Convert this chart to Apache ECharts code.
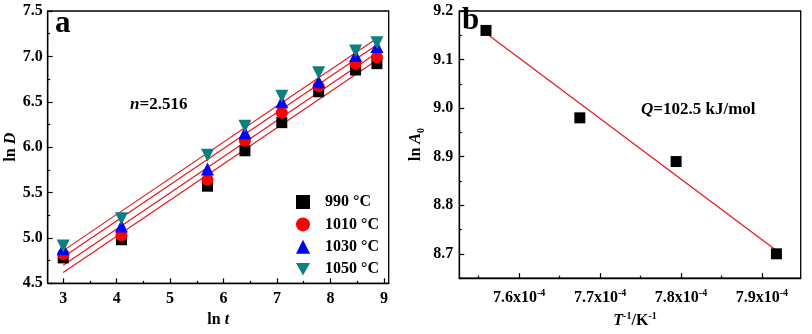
<!DOCTYPE html>
<html>
<head>
<meta charset="utf-8">
<script src="https://cdn.jsdelivr.net/npm/echarts@6/dist/echarts.min.js"></script>
<style>
html,body{margin:0;padding:0;background:#fff;}
#c{width:812px;height:334px;}
</style>
</head>
<body>
<div id="c"></div>
<script>
// ---------- Data (panel a) ----------
var lnT = [3.00, 4.09, 5.70, 6.40, 7.09, 7.78, 8.47, 8.87];
var lnD_990  = [4.78, 4.98, 5.57, 5.96, 6.27, 6.61, 6.85, 6.92];
var lnD_1010 = [4.82, 5.03, 5.64, 6.07, 6.38, 6.67, 6.92, 6.99];
var lnD_1030 = [4.88, 5.13, 5.76, 6.16, 6.50, 6.72, 7.01, 7.11];
var lnD_1050 = [4.91, 5.21, 5.91, 6.23, 6.56, 6.82, 7.06, 7.15];
var seriesNames = ['990 \u00B0C', '1010 \u00B0C', '1030 \u00B0C', '1050 \u00B0C'];
// fitted lines (endpoints)
var fitX = [3.0, 8.9];
var fit_990  = [4.62, 6.97];
var fit_1010 = [4.70, 7.05];
var fit_1030 = [4.79, 7.14];
var fit_1050 = [4.86, 7.21];
// ticks (panel a)
var aXMajor = [3, 4, 5, 6, 7, 8, 9];
var aXMinor = [3.5, 4.5, 5.5, 6.5, 7.5, 8.5];
var aYMajor = [4.5, 5.0, 5.5, 6.0, 6.5, 7.0, 7.5];
var aYMinor = [4.75, 5.25, 5.75, 6.25, 6.75, 7.25];

// ---------- Data (panel b) ----------  (x in units of 1e-4 K^-1)
var invT = [7.559, 7.675, 7.794, 7.918];
var lnA0 = [9.16, 8.98, 8.89, 8.70];
var fitInvT = [7.559, 7.918];
var fitLnA0 = [9.154, 8.707];
var bXMajor = [7.6, 7.7, 7.8, 7.9];
var bXMinor = [7.55, 7.65, 7.75, 7.85, 7.95];
var bYMajor = [8.7, 8.8, 8.9, 9.0, 9.1, 9.2];
var bYMinor = [8.65, 8.75, 8.85, 8.95, 9.05, 9.15];

var FF = 'Liberation Serif';

function zip(xs, ys) { return xs.map(function (x, i) { return [x, ys[i]]; }); }

var richBase = {
  b: {fontFamily: FF, fontWeight: 'bold', fontSize: 16, color: '#000', lineHeight: 20},
  i: {fontFamily: FF, fontWeight: 'bold', fontStyle: 'italic', fontSize: 16, color: '#000', lineHeight: 20},
  sup: {fontFamily: FF, fontWeight: 'bold', fontSize: 10, color: '#000', verticalAlign: 'top', lineHeight: 20, padding: [0, 0, 7, 0]},
  sub: {fontFamily: FF, fontWeight: 'bold', fontSize: 10, color: '#000', verticalAlign: 'bottom', lineHeight: 20, padding: [5, 0, 0, 0]}
};
var richAnn = {
  b: {fontFamily: FF, fontWeight: 'bold', fontSize: 17, color: '#000', lineHeight: 20},
  i: {fontFamily: FF, fontWeight: 'bold', fontStyle: 'italic', fontSize: 17, color: '#000', lineHeight: 20}
};

function majorAxis(type, grid, min, max, ticks, labelFmt, extra, margin) {
  var a = {
    type: 'value', gridIndex: grid, min: min, max: max,
    position: type === 'x' ? 'bottom' : 'left',
    axisLine: {show: true, onZero: false, lineStyle: {color: '#000', width: 1.3}},
    axisTick: {show: true, inside: true, length: 5, customValues: ticks, lineStyle: {color: '#000', width: 1.2}},
    axisLabel: {show: true, customValues: ticks, fontFamily: FF, fontWeight: 'bold', fontSize: 16, color: '#000',
                margin: margin, formatter: labelFmt, rich: richBase, hideOverlap: false},
    splitLine: {show: false}
  };
  for (var k in extra) a[k] = extra[k];
  return a;
}
function minorAxis(type, grid, min, max, ticks) {
  return {
    type: 'value', gridIndex: grid, min: min, max: max,
    position: type === 'x' ? 'bottom' : 'left',
    axisLine: {show: false, onZero: false},
    axisTick: {show: true, inside: true, length: 2.5, customValues: ticks, lineStyle: {color: '#000', width: 1.2}},
    axisLabel: {show: false},
    splitLine: {show: false}
  };
}

var chart = echarts.init(document.getElementById('c'), null, {renderer: 'canvas'});

var colors = ['#000000', '#ff0000', '#0000ff', '#0e7f7f'];
var symbols = ['rect', 'circle', 'triangle', 'triangle'];
var legendIcons = ['rect', 'circle', 'triangle', 'path://M0,0 L10,0 L5,9 Z'];
var rots = [0, 0, 0, 180];
var sizes = [11, 12, 13, 13];
var dataSets = [lnD_990, lnD_1010, lnD_1030, lnD_1050];
var fits = [fit_990, fit_1010, fit_1030, fit_1050];

var series = [];
fits.forEach(function (f, i) {
  series.push({
    type: 'line', name: 'fit' + i, xAxisIndex: 0, yAxisIndex: 0,
    data: zip(fitX, f), symbol: 'none', silent: true,
    lineStyle: {color: '#e3181f', width: 1.2}, z: 2
  });
});
dataSets.forEach(function (d, i) {
  series.push({
    type: 'scatter', name: seriesNames[i], xAxisIndex: 0, yAxisIndex: 0,
    data: zip(lnT, d), symbol: symbols[i], symbolRotate: rots[i], symbolSize: sizes[i],
    itemStyle: {color: colors[i], opacity: 1}, z: 3
  });
});
series.push({
  type: 'line', name: 'fitB', xAxisIndex: 2, yAxisIndex: 2,
  data: zip(fitInvT, fitLnA0), symbol: 'none', silent: true,
  lineStyle: {color: '#e3181f', width: 1.2}, z: 2
});
series.push({
  type: 'scatter', name: 'lnA0', xAxisIndex: 2, yAxisIndex: 2,
  data: zip(invT, lnA0), symbol: 'rect', symbolSize: 11,
  itemStyle: {color: '#000', opacity: 1}, z: 3
});

var option = {
  animation: false,
  backgroundColor: '#fff',
  grid: [
    {left: 47.7, top: 11, width: 341, height: 272.3, show: true, borderColor: '#000', borderWidth: 1.3, containLabel: false},
    {left: 459.3, top: 11, width: 341.4, height: 272.3, show: true, borderColor: '#000', borderWidth: 1.3, containLabel: false}
  ],
  xAxis: [
    majorAxis('x', 0, 2.71, 9.09, aXMajor, function (v) { return String(Math.round(v)); },
      {name: '{b|ln }{i|t}', nameLocation: 'middle', nameGap: 21, nameTextStyle: {rich: richBase}}, 8),
    minorAxis('x', 0, 2.71, 9.09, aXMinor),
    majorAxis('x', 1, 7.526, 7.948, bXMajor, function (v) { return '{b|' + v.toFixed(1) + 'x10}{sup|-4}'; },
      {name: '{i|T}{sup|-1}{b|/K}{sup|-1}', nameLocation: 'middle', nameGap: 32, nameTextStyle: {rich: richBase, padding: [0, 0, 0, 10]}}, 10),
    minorAxis('x', 1, 7.526, 7.948, bXMinor)
  ],
  yAxis: [
    majorAxis('y', 0, 4.5, 7.5, aYMajor, function (v) { return v.toFixed(1); },
      {name: '{b|ln }{i|D}', nameLocation: 'middle', nameGap: 25, nameTextStyle: {rich: richBase}}, 5),
    minorAxis('y', 0, 4.5, 7.5, aYMinor),
    majorAxis('y', 1, 8.65, 9.2, bYMajor, function (v) { return v.toFixed(1); },
      {name: '{b|ln }{i|A}{sub|0}', nameLocation: 'middle', nameGap: 33, nameTextStyle: {rich: richBase}}, 6),
    minorAxis('y', 1, 8.65, 9.2, bYMinor)
  ],
  legend: {
    data: seriesNames.map(function (n, i) { return {name: n, icon: legendIcons[i]}; }),
    orient: 'vertical',
    left: 291, top: 189,
    itemWidth: 14, itemHeight: 14, itemGap: 6.4,
    textStyle: {fontFamily: FF, fontWeight: 'bold', fontSize: 16, color: '#000', padding: [0, 0, 0, 10]},
    selectedMode: false
  },
  graphic: [
    {type: 'text', left: 55, top: 8, style: {text: 'a', font: 'bold 31px "Liberation Serif"', fill: '#000'}},
    {type: 'text', left: 462, top: 5, style: {text: 'b', font: 'bold 31px "Liberation Serif"', fill: '#000'}},
    {type: 'text', left: 130, top: 96, style: {text: '{i|n}{b|=2.516}', rich: richAnn}},
    {type: 'text', left: 641, top: 101, style: {text: '{i|Q}{b|=102.5 kJ/mol}', rich: richAnn}}
  ],
  series: series
};
chart.setOption(option);
</script>
</body>
</html>
